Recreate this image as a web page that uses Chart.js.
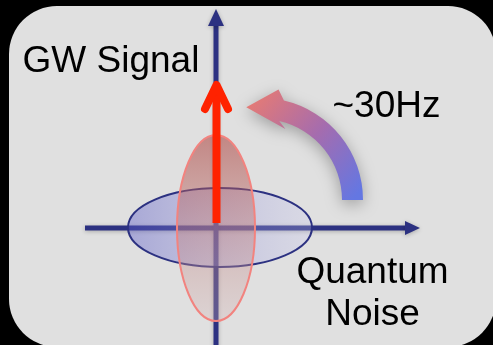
<!DOCTYPE html>
<html><head><meta charset="utf-8">
<script src="https://cdn.jsdelivr.net/npm/chart.js@4"></script>
<style>html,body{margin:0;padding:0;background:#000;overflow:hidden}canvas{display:block}</style>
</head><body>
<canvas id="c" width="493" height="345"></canvas>
<script>
// Quadrature-plane diagram; units relative to the point where the two axes cross (y up)
const panelX = [-207, 280];
const panelY = [-119, 222];
const quadratureAxisX = [-131, 190];
const quadratureAxisY = [-125, 204];
const axisHeadX = [189, 204, 7];      // base, tip, half width
const axisHeadY = [202, 219, 8];
const noiseEllipseCenter = [4, 0.5];
const noiseEllipseRadii = [92, 39.5];
const squeezedEllipseCenter = [0, 0];
const squeezedEllipseRadii = [39, 93];
const signalShaftX = [0.5, 0.5];
const signalShaftY = [5, 143];
const signalChevronX = [-11, 0.5, 12];
const signalChevronY = [119, 143, 119];
const rotationCenter = [45, 28];
const rotationRadii = [81, 102];
const rotationAnglesDeg = [0, 77];
const rotationHeadR = [112, 94, 75];
const rotationHeadDeg = [81, 99, 71];
const labels = ['GW Signal', '~30Hz', 'Quantum', 'Noise'];
const labelX = [-105, 170.5, 156.5, 156.5];
const labelY = [156, 111, -55, -97];

const NAVY = '#2c3181';
const RED = '#ff2200';

const pts = (xs, ys) => xs.map((v, i) => ({x: v, y: ys[i]}));

const diagram = {
  id: 'diagram',
  beforeDraw(chart) {
    const {ctx, scales: {x, y}} = chart;
    ctx.save();
    ctx.fillStyle = '#000';
    ctx.fillRect(0, 0, chart.width, chart.height);
    const x0 = x.getPixelForValue(panelX[0]), x1 = x.getPixelForValue(panelX[1]);
    const y0 = y.getPixelForValue(panelY[1]), y1 = y.getPixelForValue(panelY[0]);
    ctx.beginPath();
    ctx.roundRect(x0, y0, x1 - x0, y1 - y0, 48);
    ctx.fillStyle = '#e0e0e0';
    ctx.fill();
    ctx.restore();
  },
  beforeDatasetDraw(chart, args) {
    if (args.index <= 1) {
      const ctx = chart.ctx;
      ctx.save();
      ctx.shadowColor = 'rgba(0,0,0,0.25)';
      ctx.shadowBlur = 4;
      ctx.shadowOffsetY = 1;
    }
  },
  afterDatasetDraw(chart, args) {
    const {ctx, scales: {x, y}} = chart;
    if (args.index <= 1) ctx.restore();
    if (args.index !== 1) return;
    ctx.save();
    ctx.shadowColor = 'rgba(0,0,0,0.25)';
    ctx.shadowBlur = 4;
    ctx.shadowOffsetY = 1;
    ctx.fillStyle = NAVY;
    const oy = y.getPixelForValue(0), ox = x.getPixelForValue(0);
    ctx.beginPath();
    ctx.moveTo(x.getPixelForValue(axisHeadX[1]), oy);
    ctx.lineTo(x.getPixelForValue(axisHeadX[0]), oy - axisHeadX[2]);
    ctx.lineTo(x.getPixelForValue(axisHeadX[0]), oy + axisHeadX[2]);
    ctx.closePath(); ctx.fill();
    ctx.beginPath();
    ctx.moveTo(ox, y.getPixelForValue(axisHeadY[1]));
    ctx.lineTo(ox - axisHeadY[2], y.getPixelForValue(axisHeadY[0]));
    ctx.lineTo(ox + axisHeadY[2], y.getPixelForValue(axisHeadY[0]));
    ctx.closePath(); ctx.fill();
    ctx.restore();

    const ell = (c, r) => {
      const cx = x.getPixelForValue(c[0]), cy = y.getPixelForValue(c[1]);
      const rx = Math.abs(x.getPixelForValue(c[0] + r[0]) - cx);
      const ry = Math.abs(y.getPixelForValue(c[1] + r[1]) - cy);
      ctx.beginPath();
      ctx.ellipse(cx, cy, rx, ry, 0, 0, Math.PI * 2);
      return {cx, cy, rx, ry};
    };
    ctx.save();
    let e = ell(noiseEllipseCenter, noiseEllipseRadii);
    let g = ctx.createLinearGradient(e.cx - e.rx, 0, e.cx + e.rx, 0);
    g.addColorStop(0, 'rgba(90,90,200,0.42)');
    g.addColorStop(1, 'rgba(200,200,240,0.28)');
    ctx.fillStyle = g; ctx.fill();
    ctx.strokeStyle = NAVY; ctx.lineWidth = 2; ctx.stroke();
    e = ell(squeezedEllipseCenter, squeezedEllipseRadii);
    g = ctx.createLinearGradient(0, e.cy - e.ry, 0, e.cy + e.ry);
    g.addColorStop(0, 'rgba(170,60,55,0.55)');
    g.addColorStop(1, 'rgba(210,180,180,0.3)');
    ctx.fillStyle = g; ctx.fill();
    ctx.strokeStyle = '#f2837f'; ctx.lineWidth = 2; ctx.stroke();
    ctx.restore();

    const cx = x.getPixelForValue(rotationCenter[0]), cy = y.getPixelForValue(rotationCenter[1]);
    const sx = Math.abs(x.getPixelForValue(1) - x.getPixelForValue(0));
    const P = (r, d) => [cx + r * sx * Math.cos(d * Math.PI / 180), cy - r * sx * Math.sin(d * Math.PI / 180)];
    const rin = rotationRadii[0] * sx, rout = rotationRadii[1] * sx;
    const a0 = -rotationAnglesDeg[0] * Math.PI / 180, a1 = -rotationAnglesDeg[1] * Math.PI / 180;
    ctx.save();
    ctx.beginPath();
    ctx.moveTo(...P(rotationRadii[0], rotationAnglesDeg[0]));
    ctx.lineTo(...P(rotationRadii[1], rotationAnglesDeg[0]));
    ctx.arc(cx, cy, rout, a0, a1, true);
    ctx.lineTo(...P(rotationHeadR[0], rotationHeadDeg[0]));
    ctx.lineTo(...P(rotationHeadR[1], rotationHeadDeg[1]));
    ctx.lineTo(...P(rotationHeadR[2], rotationHeadDeg[2]));
    ctx.lineTo(...P(rotationRadii[0], rotationAnglesDeg[1]));
    ctx.arc(cx, cy, rin, a1, a0, false);
    ctx.closePath();
    const tip = P(rotationHeadR[1], rotationHeadDeg[1]);
    const end = P((rotationRadii[0] + rotationRadii[1]) / 2, rotationAnglesDeg[0]);
    g = ctx.createLinearGradient(tip[0], tip[1], end[0], end[1]);
    g.addColorStop(0, '#e47a76');
    g.addColorStop(0.5, '#a56cae');
    g.addColorStop(1, '#6477e2');
    ctx.shadowColor = 'rgba(0,0,0,0.3)';
    ctx.shadowBlur = 16;
    ctx.shadowOffsetY = 4;
    ctx.fillStyle = g;
    ctx.fill();
    ctx.restore();
  },
  afterDatasetsDraw(chart) {
    const {ctx, scales: {x, y}} = chart;
    ctx.save();
    ctx.fillStyle = '#000';
    ctx.font = '37px "Liberation Sans", Arial, sans-serif';
    ctx.textAlign = 'center';
    ctx.textBaseline = 'alphabetic';
    labels.forEach((t, i) => ctx.fillText(t, x.getPixelForValue(labelX[i]), y.getPixelForValue(labelY[i])));
    ctx.restore();
  }
};

new Chart(document.getElementById('c'), {
  type: 'scatter',
  data: {
    datasets: [
      {data: pts(quadratureAxisX, [0, 0]), showLine: true, borderColor: NAVY, borderWidth: 5, pointRadius: 0, order: 4},
      {data: pts([0, 0], quadratureAxisY), showLine: true, borderColor: NAVY, borderWidth: 5, pointRadius: 0, order: 3},
      {data: pts(signalShaftX, signalShaftY), showLine: true, borderColor: RED, borderWidth: 8, pointRadius: 0, order: 2},
      {data: pts(signalChevronX, signalChevronY), showLine: true, borderColor: RED, borderWidth: 8, pointRadius: 0,
       borderCapStyle: 'round', borderJoinStyle: 'round', order: 1}
    ]
  },
  options: {
    responsive: false,
    animation: false,
    events: [],
    layout: {padding: 0},
    plugins: {legend: {display: false}, tooltip: {enabled: false}},
    scales: {
      x: {type: 'linear', min: -216, max: 277, display: false},
      y: {type: 'linear', min: -117, max: 228, display: false}
    }
  },
  plugins: [diagram]
});
</script>
</body></html>
